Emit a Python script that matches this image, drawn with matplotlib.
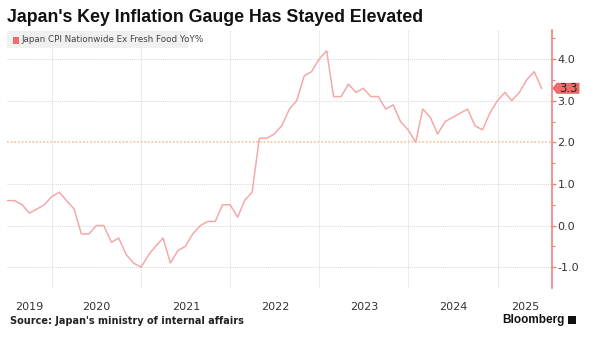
import matplotlib.pyplot as plt
import pandas as pd
from matplotlib.patches import Rectangle, Polygon

# Japan core CPI (ex fresh food) YoY %, monthly Jun 2019 - Jun 2025
start_month = "2019-06-30"
cpi = [
    0.6, 0.6, 0.5, 0.3, 0.4, 0.5, 0.7,                                  # 2019 Jun-Dec
    0.8, 0.6, 0.4, -0.2, -0.2, 0.0, 0.0, -0.4, -0.3, -0.7, -0.9, -1.0,  # 2020
    -0.7, -0.5, -0.3, -0.9, -0.6, -0.5, -0.2, 0.0, 0.1, 0.1, 0.5, 0.5,  # 2021
    0.2, 0.6, 0.8, 2.1, 2.1, 2.2, 2.4, 2.8, 3.0, 3.6, 3.7, 4.0,        # 2022
    4.2, 3.1, 3.1, 3.4, 3.2, 3.3, 3.1, 3.1, 2.8, 2.9, 2.5, 2.3,        # 2023
    2.0, 2.8, 2.6, 2.2, 2.5, 2.6, 2.7, 2.8, 2.4, 2.3, 2.7, 3.0,        # 2024
    3.2, 3.0, 3.2, 3.5, 3.7, 3.3,                                      # 2025
]
years = [2019, 2020, 2021, 2022, 2023, 2024, 2025]
yticks = [-1.0, 0.0, 1.0, 2.0, 3.0, 4.0]

title = "Japan's Key Inflation Gauge Has Stayed Elevated"
series_name = "Japan CPI Nationwide Ex Fresh Food YoY%"
source = "Source: Japan's ministry of internal affairs"

dates = pd.date_range(start_month, periods=len(cpi), freq="ME")
line_col = "#f5a8a8"
axis_col = "#f07f7f"
W, H = 602, 342

plt.rcParams["font.family"] = ["Liberation Sans", "DejaVu Sans"]
fig = plt.figure(figsize=(W / 100, H / 100), dpi=100)
ax = fig.add_axes([7 / W, 54 / H, 545 / W, 258 / H])

x0 = dates[0]
x1 = pd.Timestamp("2025-08-12")
ax.set_xlim(x0, x1)
ax.set_ylim(-1.5, 4.7)

ax.plot(dates, cpi, color=line_col, lw=1.1, zorder=3)

# grid
for y in yticks:
    if y == 2.0:
        ax.axhline(y, color="#f5c9a8", lw=1.3, ls=(0, (1, 1)), zorder=1)
    else:
        ax.axhline(y, color="#d8d8d8", lw=0.7, ls=(0, (1, 1)), zorder=1)
for yr in years[1:]:
    ax.axvline(pd.Timestamp(f"{yr}-01-01"), color="#d8d8d8", lw=0.7,
               ls=(0, (1, 1)), zorder=1)

# x labels centred in the visible part of each year
ax.set_xticks([])
for yr in years:
    a = max(pd.Timestamp(f"{yr}-01-01"), x0)
    b = min(pd.Timestamp(f"{yr + 1}-01-01"), x1)
    mid = a + (b - a) / 2
    ax.text(mid, -0.075, str(yr), transform=ax.get_xaxis_transform(),
            ha="center", va="center", fontsize=8, color="#333333",
            family="DejaVu Sans")

# right axis
for s in ["top", "left", "bottom"]:
    ax.spines[s].set_visible(False)
ax.spines["right"].set_color(axis_col)
ax.spines["right"].set_linewidth(1.2)
ax.yaxis.tick_right()
ax.set_yticks(yticks)
ax.set_yticklabels([f"{v:.1f}" for v in yticks], family="DejaVu Sans")
ax.set_yticks([-0.5, 0.5, 1.5, 2.5, 3.5, 4.5], minor=True)
ax.tick_params(axis="y", which="major", direction="out", length=3, width=1,
               color=axis_col, labelsize=8, labelcolor="#333333", pad=1)
ax.tick_params(axis="y", which="minor", direction="out", length=2.5, width=0.8,
               color=axis_col)

# last value tag (drawn in pixel space)
last = cpi[-1]
_, ty = ax.transData.transform((0, last))
tx = ax.transAxes.transform((1, 0))[0] + 1
tag = Polygon([(tx, ty), (tx + 4, ty + 5), (tx + 26, ty + 5),
               (tx + 26, ty - 5), (tx + 4, ty - 5)], closed=True,
              transform=None, fc="#f26b6b", ec="#e05a5a", lw=0.6, zorder=5)
fig.patches.append(tag)
fig.text((tx + 15) / W, ty / H, f"{last:.1f}", fontsize=8.5, color="#222222",
         ha="center", va="center", family="DejaVu Sans", zorder=6)

# legend box
fig.patches.append(Rectangle((7 / W, 1 - 48 / H), 181 / W, 17 / H,
                             transform=fig.transFigure, fc="#eeeeee",
                             ec="none", alpha=0.85, zorder=0))
fig.patches.append(Rectangle((13 / W, 1 - 43.5 / H), 6 / W, 6 / H,
                             transform=fig.transFigure, fc="#f26b6b",
                             ec="none"))
fig.text(21 / W, 1 - 40 / H, series_name, fontsize=6.3, color="#444444",
         va="center", ha="left", family="DejaVu Sans")

fig.text(7 / W, 1 - 18 / H, title, fontsize=12.8, fontweight="bold",
         va="center", ha="left", color="#111111")
fig.text(10 / W, 1 - 321 / H, source, fontsize=7, fontweight="bold",
         va="center", ha="left", color="#222222", family="DejaVu Sans")
fig.text(565 / W, 1 - 320 / H, "Bloomberg", fontsize=8.5,
         fontweight="bold", va="center", ha="right", color="#111111")
fig.patches.append(Rectangle((568 / W, 1 - 324 / H), 8 / W, 8 / H,
                             transform=fig.transFigure, fc="#111111",
                             ec="none"))

fig.savefig("out.png", dpi=100)
